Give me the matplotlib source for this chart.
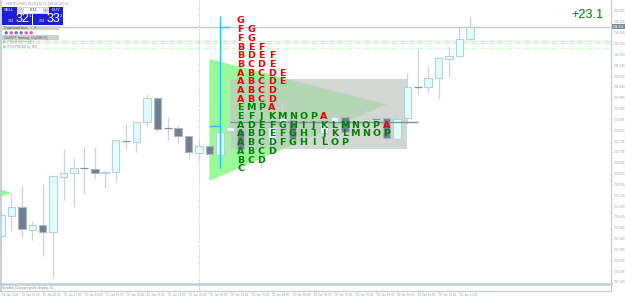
import matplotlib
matplotlib.use('Agg')
import matplotlib.pyplot as plt
from matplotlib.patches import Polygon, Rectangle, Circle

plt.rcParams['font.family'] = ['Liberation Sans', 'DejaVu Sans']

# GBPJPY M30 bars
opens = [133.357, 133.449, 133.491, 133.385, 133.408, 133.375, 133.629, 133.648, 133.671, 133.666,
         133.648, 133.652, 133.795, 133.791, 133.883, 133.994, 133.855, 133.855, 133.818, 133.740,
         133.772, 133.731, 133.841, 133.846, 133.758, 133.777, 133.786, 133.883, 133.892, 133.883,
         133.874, 133.832, 133.883, 133.906, 133.883, 133.883, 133.897, 133.901, 133.805, 133.901,
         134.044, 134.044, 134.086, 134.174, 134.187, 134.266]
highs = [133.482, 133.555, 133.588, 133.426, 133.597, 133.638, 133.758, 133.717, 133.768, 133.768,
         133.662, 133.800, 133.874, 133.883, 134.012, 133.998, 133.906, 133.869, 133.818, 133.800,
         133.772, 133.869, 133.878, 133.869, 133.906, 133.855, 133.906, 133.984, 133.901, 133.911,
         133.901, 133.906, 133.915, 133.915, 133.901, 133.943, 133.925, 133.911, 133.929, 134.109,
         134.220, 134.141, 134.178, 134.234, 134.321, 134.372]
lows = [133.283, 133.380, 133.352, 133.339, 133.265, 133.168, 133.523, 133.495, 133.551, 133.620,
        133.579, 133.606, 133.758, 133.745, 133.865, 133.837, 133.800, 133.786, 133.717, 133.708,
        133.735, 133.675, 133.731, 133.745, 133.745, 133.671, 133.740, 133.823, 133.800, 133.855,
        133.855, 133.818, 133.869, 133.827, 133.865, 133.869, 133.865, 133.800, 133.786, 133.874,
        134.007, 134.017, 133.989, 134.091, 134.183, 134.261]
closes = [133.454, 133.491, 133.389, 133.408, 133.375, 133.634, 133.648, 133.671, 133.671, 133.648,
          133.652, 133.800, 133.795, 133.883, 133.994, 133.851, 133.855, 133.818, 133.745, 133.772,
          133.735, 133.837, 133.860, 133.758, 133.768, 133.786, 133.860, 133.901, 133.809, 133.883,
          133.878, 133.878, 133.906, 133.837, 133.883, 133.897, 133.897, 133.809, 133.897, 134.044,
          134.044, 134.086, 134.178, 134.187, 134.266, 134.321]

# market profile rows, top to bottom, starting at the session's first bar
tpo_rows = ['G', 'FG', 'FG', 'BEF', 'BDEF', 'BCDE', 'ABCDE', 'ABCDE', 'ABCD', 'ABCD',
            'EMPA', 'EFJKMNOPA', 'ADEFGHIJKLMNOPA', 'ABDEFGHIJKLMNOP', 'ABCDFGHILOP',
            'ABCD', 'BCD', 'C']
tpo_red_rows = 10
tpo_red_tail = [10, 11, 12]
tpo_top = 134.349
tpo_step = 0.0401
tpo_first_bar = 23

level_prices = [134.258, 134.246, 134.226]
level_colors = ['#b4ecb4', '#c4f0c4', '#d8f6d8']
last_price = 134.32
price_ticks = [134.395 - 0.05 * n for n in range(26)]
time_labels = ['25 Jan 2022', '25 Jan 15:00', '25 Jan 16:00', '25 Jan 17:00', '25 Jan 18:00',
               '25 Jan 19:00', '25 Jan 20:00', '25 Jan 21:00', '25 Jan 22:00', '25 Jan 23:00',
               '26 Jan 00:00', '26 Jan 01:00', '26 Jan 02:00', '26 Jan 03:00', '26 Jan 04:00',
               '26 Jan 05:00', '26 Jan 06:00', '26 Jan 07:00', '26 Jan 08:00', '26 Jan 09:00',
               '26 Jan 10:00', '26 Jan 11:00', '26 Jan 12:00']

AXIS = '#c3ccd6'
LABEL = '#9aa3ad'
BLUE = '#1f1fd2'

fig = plt.figure(figsize=(6.25, 2.98), dpi=100, facecolor='white')
ax = fig.add_axes([0, 15 / 298, 610 / 625, 283 / 298])
ax.set_xlim(-0.096, 58.45)
ax.set_ylim(133.140, 134.4457)
for side in ['top', 'left', 'bottom', 'right']:
    ax.spines[side].set_visible(False)
ax.set_xticks([])
ax.yaxis.tick_right()
ax.set_yticks(price_ticks)
ax.set_yticklabels(['%.3f' % p for p in price_ticks], fontsize=2.3, color=LABEL)
ax.tick_params(axis='y', length=1.5, width=0.5, color=AXIS, pad=0.8)

# triangle, then the value area box laid over it
ax.add_patch(Polygon([(20, 134.174), (37, 133.964), (20, 133.611)], color='#98fb98', lw=0, zorder=1))
ax.add_patch(Rectangle((22, 133.758), 17, 0.323, color='#c1c7c1', alpha=0.71, lw=0, zorder=1.5))
ax.add_patch(Polygon([(-0.1, 133.574), (1, 133.555), (-0.1, 133.537)], color='#98fb98', lw=0, zorder=3))

ax.axvline(19, color='#bcbcbc', lw=0.7, ls=(0, (1, 1.5)), zorder=1)
ax.axhline(last_price, color='#c4c8cc', lw=1, zorder=1)
for p, c in zip(level_prices, level_colors):
    ax.axhline(p, color=c, lw=0.8, ls=(0, (4, 1.5, 1, 1.5)), zorder=1)

# candles
for i in range(len(opens)):
    ax.vlines(i, lows[i], highs[i], color='#cdd1d8', lw=0.85, zorder=2)
    if abs(closes[i] - opens[i]) < 0.001:
        ax.hlines(opens[i], i - 0.38, i + 0.38, color='#8492a0', lw=0.9, zorder=2.5)
    elif closes[i] > opens[i]:
        ax.bar(i, closes[i] - opens[i], 0.72, bottom=opens[i], color='#e0ffff', edgecolor='#bfced5', lw=0.8, zorder=2.5)
    else:
        ax.bar(i, opens[i] - closes[i], 0.72, bottom=closes[i], color='#708090', edgecolor='#aeb8c2', lw=0.8, zorder=2.5)

# session open/close marker and point of control
ax.vlines(21, 133.671, 134.372, color='#1fc4fb', lw=1, zorder=3)
ax.hlines(133.865, 20, 21, color='#1fc4fb', lw=1, zorder=3)
ax.hlines(134.321, 21, 22, color='#1fc4fb', lw=1, zorder=3)
ax.hlines(133.881, 22, 40, color='#7d90a8', lw=1, zorder=3)

for r, row in enumerate(tpo_rows):
    for c, letter in enumerate(row):
        red = r < tpo_red_rows or (r in tpo_red_tail and c == len(row) - 1)
        ax.text(tpo_first_bar + c, tpo_top - tpo_step * r, letter, fontsize=6.8, family='DejaVu Sans',
                fontweight='bold', ha='center', va='center', color='#f00000' if red else '#008000', zorder=4)

# overlay in screen pixels for the terminal furniture
ui = fig.add_axes([0, 0, 1, 1], facecolor='none')
ui.set_xlim(0, 625)
ui.set_ylim(298, 0)
ui.axis('off')

ui.plot([0.5, 0.5], [0, 291], color=AXIS, lw=1.2)
ui.plot([610.5, 610.5], [0, 291], color=AXIS, lw=0.9)
ui.plot([0, 611], [283.5, 283.5], color=AXIS, lw=1.8)
ui.plot([0, 611], [291, 291], color=AXIS, lw=0.9)
ui.plot([199, 199], [283, 291], color='#bcbcbc', lw=0.7, ls=(0, (1, 1.5)))
ui.text(2, 287.5, 'Scrolled Changer profit display v3', fontsize=2.4, color='#8b8b8b', va='center')

for n, lab in enumerate(time_labels):
    tick_x = 1 + 20.84 * n
    ui.plot([tick_x, tick_x], [291, 293], color=AXIS, lw=0.5)
    ui.text(tick_x + 0.5, 295, lab, fontsize=2.2, color=LABEL, va='center')

ui.add_patch(Rectangle((610.5, 24), 14.5, 5, color='#7d8a9c', lw=0))
ui.text(612.5, 26.6, '134.321', fontsize=2.3, color='white', va='center')
ui.text(571, 14.5, '+23.1', fontsize=9.2, color='#008000', va='center')

# order panel
ui.text(6, 3.3, 'GBPJPY,H30 134.28 134.75 134.26 134.32', fontsize=2.3, color='#8d8d8d', va='center')
ui.add_patch(Rectangle((2, 6.5), 15, 7, color=BLUE, lw=0))
ui.add_patch(Rectangle((49, 6.5), 14, 7, color=BLUE, lw=0))
ui.add_patch(Rectangle((17, 6.5), 32, 7, color='#d8d8d8', lw=0))
ui.add_patch(Rectangle((24, 7.5), 19, 5, color='white', lw=0))
ui.add_patch(Rectangle((2, 14), 30, 11, color=BLUE, lw=0))
ui.add_patch(Rectangle((33, 14), 30, 11, color=BLUE, lw=0))
ui.text(9, 10, 'SELL', fontsize=3, color='white', ha='center', va='center')
ui.text(56, 10, 'BUY', fontsize=3, color='white', ha='center', va='center')
ui.text(34, 10, '0.11', fontsize=3, color='#333333', ha='center', va='center')
ui.text(20.5, 10, '-', fontsize=3.5, color='#333333', ha='center', va='center')
ui.text(45, 10, '+', fontsize=3, color='#333333', ha='center', va='center')
for x0, big, sup in [(8, '32', '1'), (39, '33', '2')]:
    ui.text(x0, 21.5, '134', fontsize=2.6, color='white', va='center')
    ui.text(x0 + 7.5, 19.5, big, fontsize=9, color='white', va='center')
    ui.text(x0 + 21, 15.8, sup, fontsize=3, color='white', va='center')

ui.add_patch(Rectangle((2, 25.5), 57, 4.8, color='#cfcfcf', lw=0))
ui.text(4, 28, 'DaylistartHour    :  3', fontsize=2.6, color='#555555', va='center')
dot_colors = ['#5a78e6', '#f050c0', '#5a78e6', '#5a78e6', '#f050c0', '#f050c0']
for n, c in enumerate(dot_colors):
    ui.add_patch(Circle((6.2 + 5 * n, 32.8), 1.7, color=c, lw=0))
ui.add_patch(Rectangle((2, 35.2), 57, 4.8, color='#cfcfcf', lw=0))
ui.text(4, 37.7, 'On/OFF Setting: On(1BUY)', fontsize=2.6, color='#555555', va='center')
ui.text(3, 42.5, 'AUTOSMOOTH (01)', fontsize=2.4, color='#9a9a9a', va='center')
ui.text(3, 47, 'AUTOSPREAD by RSI', fontsize=2.4, color='#9a9a9a', va='center')

fig.savefig('out.png', dpi=100)
